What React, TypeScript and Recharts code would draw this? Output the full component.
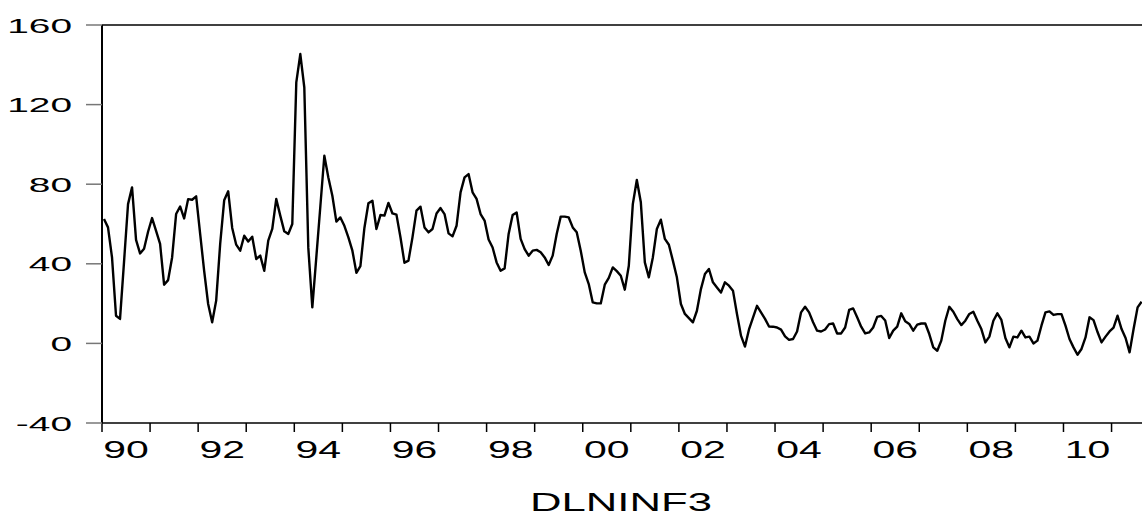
import React from "react";
import { LineChart, Line, XAxis, YAxis, ReferenceLine } from "recharts";

// monthly values, one array per year (2011 runs to August)
const y1990 = [62.5, 58.3, 43.2, 13.9, 12.3, 41, 70, 78.4, 52, 45.2, 47.6, 56.1];
const y1991 = [63, 56.6, 50, 29.5, 31.8, 43.2, 65, 68.8, 62.8, 72.5, 72.2, 73.9];
const y1992 = [55, 36.5, 19.8, 10.6, 21.5, 50, 71.9, 76.4, 58, 49.6, 46.6, 54.1];
const y1993 = [51.2, 53.6, 42.4, 44.1, 36.5, 51.6, 57.5, 72.6, 64.2, 56.3, 55, 60];
const y1994 = [131.2, 145.4, 128.6, 48, 18.1, 43.4, 68.8, 94.3, 83.4, 74.2, 61.2, 63.3];
const y1995 = [59.1, 53.3, 46.6, 35.5, 38.8, 58, 70.4, 71.7, 57.5, 64.5, 64.2, 70.6];
const y1996 = [65.3, 64.7, 53.3, 40.5, 41.6, 53.3, 66.7, 68.7, 58.3, 55.8, 57.5, 65.3];
const y1997 = [68, 65, 55.3, 53.8, 59.1, 75.9, 83.4, 85.1, 75.9, 72.6, 65, 61.7];
const y1998 = [52.2, 48.2, 40.7, 36.5, 37.7, 55, 64.5, 65.8, 52.5, 47.4, 44.1, 46.6];
const y1999 = [47, 45.8, 43.2, 39.4, 44.1, 55, 63.7, 63.7, 63.3, 58.3, 55.8, 46.6];
const y2000 = [35.7, 29.8, 20.6, 20.1, 20.1, 29.5, 32.9, 38.2, 36.3, 34, 27, 39];
const y2001 = [70, 82.1, 70.9, 40.7, 33.2, 43.2, 57.5, 62.2, 52.5, 49.6, 41.6, 33.2];
const y2002 = [19.8, 14.8, 12.7, 10.6, 16.4, 27.3, 34.9, 37.4, 30.7, 28.1, 25.6, 30.7];
const y2003 = [29, 26.5, 14.8, 3.9, -1.6, 7, 13, 18.9, 15.6, 12.3, 8.5, 8.4];
const y2004 = [8, 6.9, 3.5, 1.8, 2.2, 6, 15.6, 18.4, 15.6, 10.6, 6.4, 6];
const y2005 = [7, 9.7, 10, 5, 5, 8, 16.8, 17.6, 13.1, 8.4, 5, 5.5];
const y2006 = [8, 13.3, 13.8, 11.5, 2.7, 6.4, 8.4, 15.1, 11.1, 9.8, 6.4, 9.4];
const y2007 = [10, 10, 4.7, -2, -3.7, 1.4, 11.4, 18.4, 15.9, 12.2, 9.2, 11.4];
const y2008 = [14.8, 15.9, 11.4, 7.2, 0.5, 3.4, 11.4, 15.1, 11.8, 2.7, -2, 3.4];
const y2009 = [3, 6.4, 3, 3.4, 0, 1.4, 8.9, 15.6, 16.1, 14.3, 14.7, 14.7];
const y2010 = [8.9, 2.2, -2, -5.7, -2.8, 3, 13.1, 11.7, 5.7, 0.5, 3.4, 6];
const y2011 = [7.9, 13.9, 7.2, 2.7, -4.5, 7.2, 18.1, 21];

const monthly = [
  ...y1990, ...y1991, ...y1992, ...y1993, ...y1994, ...y1995, ...y1996,
  ...y1997, ...y1998, ...y1999, ...y2000, ...y2001, ...y2002, ...y2003,
  ...y2004, ...y2005, ...y2006, ...y2007, ...y2008, ...y2009, ...y2010, ...y2011,
];

const xTickLabels = ["90", "92", "94", "96", "98", "00", "02", "04", "06", "08", "10"];
const yTicks = [-40, 0, 40, 80, 120, 160];
const seriesName = "DLNINF3";

// observations sit at the middle of their month
const data = monthly.map((v, i) => ({ t: i + 0.5, v }));
const yearStarts = Array.from({ length: 22 }, (_, k) => k * 12);

const W = 1142;
const H = 521;
const Y_AXIS_W = 102;
const X_MAX = 259.6;
const PX_PER_MONTH = (W - Y_AXIS_W) / X_MAX;
const FONT = "'Liberation Sans', Arial, sans-serif";

const XTick = (props: any) => {
  const { x, y, payload } = props;
  const k = Math.round(payload.value / 12);
  const label = k % 2 === 0 ? xTickLabels[k / 2] : undefined;
  if (!label) return <g />;
  return (
    <g transform={`translate(${x + 6 * PX_PER_MONTH},${y + 26}) scale(1.78,1)`}>
      <text textAnchor="middle" fontSize={23} fontFamily={FONT} fill="#000">
        {label}
      </text>
    </g>
  );
};

const YTick = (props: any) => {
  const { x, y, payload } = props;
  return (
    <g transform={`translate(${x},${y + 7.5}) scale(1.85,1)`}>
      <text textAnchor="end" fontSize={21} fontFamily={FONT} fill="#000">
        {payload.value}
      </text>
    </g>
  );
};

export default function App() {
  return (
    <div style={{ position: "absolute", left: 0, top: 0, width: W, height: H, background: "#fff" }}>
      <LineChart width={W} height={H} data={data} margin={{ top: 25, right: 0, bottom: 38, left: 0 }}>
        <XAxis
          dataKey="t"
          type="number"
          domain={[0, X_MAX]}
          ticks={yearStarts}
          interval={0}
          height={60}
          tickSize={9}
          tickMargin={0}
          tickLine={{ stroke: "#000", strokeWidth: 1.5 }}
          axisLine={{ stroke: "#000", strokeWidth: 1.5 }}
          tick={<XTick />}
        />
        <YAxis
          type="number"
          domain={[-40, 160]}
          ticks={yTicks}
          interval={0}
          width={Y_AXIS_W}
          tickSize={16}
          tickMargin={14}
          tickLine={{ stroke: "#777", strokeWidth: 1.5 }}
          axisLine={{ stroke: "#000", strokeWidth: 2 }}
          tick={<YTick />}
        />
        <ReferenceLine y={160} stroke="#000" strokeWidth={1.5} />
        <Line
          type="linear"
          dataKey="v"
          name={seriesName}
          stroke="#000"
          strokeWidth={2.4}
          strokeLinejoin="round"
          dot={false}
          isAnimationActive={false}
        />
      </LineChart>
      <svg width={W} height={H} style={{ position: "absolute", left: 0, top: 0, pointerEvents: "none" }}>
        <g transform="translate(621,510.5) scale(1.68,1)">
          <text textAnchor="middle" fontSize={26} fontFamily={FONT} fill="#000">
            {seriesName}
          </text>
        </g>
      </svg>
    </div>
  );
}
